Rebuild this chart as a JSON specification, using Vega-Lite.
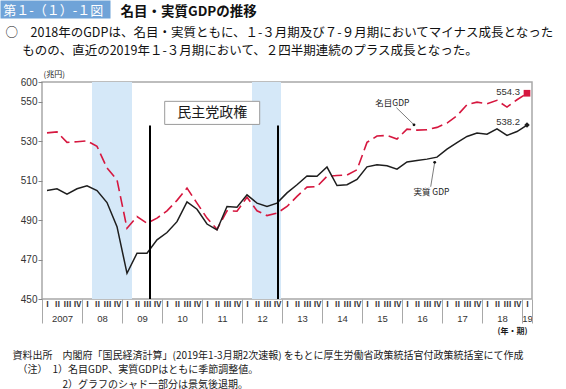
{
  "$schema": "https://vega.github.io/schema/vega-lite/v6.json",
  "width": 490,
  "height": 217,
  "autosize": "none",
  "padding": {"left": 42, "top": 82, "right": 34, "bottom": 90},
  "background": "white",
  "config": {
    "view": {"stroke": "#a8a8a8", "strokeWidth": 1.5},
    "font": "Noto Sans CJK JP",
    "axis": {"labelFlush": false, "labelOverlap": false, "labelBound": false, "grid": false, "titleColor": "#1a1a1a", "labelColor": "#333333"},
    "text": {"font": "Noto Sans CJK JP"}
  },
  "datasets": {
    "gdp": [
      {"t": 0, "period": "2007Q1", "real": 505.0, "nominal": 534.2},
      {"t": 1, "period": "2007Q2", "real": 505.9, "nominal": 534.7},
      {"t": 2, "period": "2007Q3", "real": 503.2, "nominal": 529.4},
      {"t": 3, "period": "2007Q4", "real": 505.9, "nominal": 529.7},
      {"t": 4, "period": "2008Q1", "real": 507.4, "nominal": 530.2},
      {"t": 5, "period": "2008Q2", "real": 505.0, "nominal": 527.4},
      {"t": 6, "period": "2008Q3", "real": 498.9, "nominal": 516.4},
      {"t": 7, "period": "2008Q4", "real": 486.7, "nominal": 510.4},
      {"t": 8, "period": "2009Q1", "real": 463.0, "nominal": 485.9},
      {"t": 9, "period": "2009Q2", "real": 473.2, "nominal": 491.8},
      {"t": 10, "period": "2009Q3", "real": 473.2, "nominal": 488.4},
      {"t": 11, "period": "2009Q4", "real": 480.0, "nominal": 491.0},
      {"t": 12, "period": "2010Q1", "real": 483.7, "nominal": 494.7},
      {"t": 13, "period": "2010Q2", "real": 489.2, "nominal": 500.0},
      {"t": 14, "period": "2010Q3", "real": 499.2, "nominal": 506.2},
      {"t": 15, "period": "2010Q4", "real": 495.5, "nominal": 498.6},
      {"t": 16, "period": "2011Q1", "real": 488.0, "nominal": 491.0},
      {"t": 17, "period": "2011Q2", "real": 485.0, "nominal": 485.3},
      {"t": 18, "period": "2011Q3", "real": 496.9, "nominal": 494.7},
      {"t": 19, "period": "2011Q4", "real": 496.5, "nominal": 494.5},
      {"t": 20, "period": "2012Q1", "real": 502.8, "nominal": 501.6},
      {"t": 21, "period": "2012Q2", "real": 498.6, "nominal": 494.7},
      {"t": 22, "period": "2012Q3", "real": 496.9, "nominal": 492.3},
      {"t": 23, "period": "2012Q4", "real": 498.6, "nominal": 493.5},
      {"t": 24, "period": "2013Q1", "real": 503.8, "nominal": 496.9},
      {"t": 25, "period": "2013Q2", "real": 507.9, "nominal": 502.0},
      {"t": 26, "period": "2013Q3", "real": 512.4, "nominal": 506.7},
      {"t": 27, "period": "2013Q4", "real": 512.2, "nominal": 507.0},
      {"t": 28, "period": "2014Q1", "real": 516.9, "nominal": 512.2},
      {"t": 29, "period": "2014Q2", "real": 507.5, "nominal": 512.6},
      {"t": 30, "period": "2014Q3", "real": 507.9, "nominal": 512.8},
      {"t": 31, "period": "2014Q4", "real": 510.6, "nominal": 515.5},
      {"t": 32, "period": "2015Q1", "real": 517.0, "nominal": 529.4},
      {"t": 33, "period": "2015Q2", "real": 518.0, "nominal": 532.6},
      {"t": 34, "period": "2015Q3", "real": 517.5, "nominal": 532.9},
      {"t": 35, "period": "2015Q4", "real": 515.8, "nominal": 531.1},
      {"t": 36, "period": "2016Q1", "real": 519.5, "nominal": 536.1},
      {"t": 37, "period": "2016Q2", "real": 520.2, "nominal": 535.6},
      {"t": 38, "period": "2016Q3", "real": 520.9, "nominal": 535.8},
      {"t": 39, "period": "2016Q4", "real": 521.9, "nominal": 537.0},
      {"t": 40, "period": "2017Q1", "real": 526.0, "nominal": 539.2},
      {"t": 41, "period": "2017Q2", "real": 529.3, "nominal": 542.9},
      {"t": 42, "period": "2017Q3", "real": 532.4, "nominal": 548.5},
      {"t": 43, "period": "2017Q4", "real": 534.1, "nominal": 549.8},
      {"t": 44, "period": "2018Q1", "real": 533.5, "nominal": 549.0},
      {"t": 45, "period": "2018Q2", "real": 536.3, "nominal": 550.7},
      {"t": 46, "period": "2018Q3", "real": 532.9, "nominal": 547.3},
      {"t": 47, "period": "2018Q4", "real": 534.9, "nominal": 551.0},
      {"t": 48, "period": "2019Q1", "real": 538.2, "nominal": 554.3}
    ],
    "recession": [
      {"start": 4.5, "end": 8.5, "period": "2008Q2-2009Q1"},
      {"start": 20.5, "end": 23.4, "period": "2012Q2-2012Q4"}
    ],
    "cabinet": [
      {"t": 10.3, "event": "民主党政権発足"},
      {"t": 23.1, "event": "民主党政権終了"}
    ]
  },
  "resolve": {"axis": {"x": "independent", "y": "independent"}},
  "layer": [
    {
      "data": {"name": "recession"},
      "mark": {"type": "rect", "color": "#d5e8f8"},
      "encoding": {
        "x": {"field": "start", "type": "quantitative", "scale": {"domain": [-0.5, 48.5], "nice": false, "zero": false},
          "axis": {"orient": "bottom", "values": [1.5, 5.5, 9.5, 13.5, 17.5, 21.5, 25.5, 29.5, 33.5, 37.5, 41.5, 45.5, 48],
            "labelExpr": "datum.value < 2 ? '2007' : slice(toString(2007 + floor((datum.value + 0.5) / 4)), 2)",
            "ticks": false, "domain": false, "labelPadding": 14, "labelFontSize": 9.5, "labelFont": "Liberation Sans", "title": null}},
        "x2": {"field": "end"},
        "y": {"datum": 450, "type": "quantitative", "scale": {"domain": [450, 560], "nice": false, "zero": false},
          "axis": {"orient": "left", "values": [450, 470, 490, 510, 530, 550, 560],
            "labelExpr": "datum.value == 560 ? '600' : datum.label",
            "tickSize": 4, "tickColor": "#888888", "tickWidth": 1, "domain": false, "labelPadding": 1,
            "labelFontSize": 10, "labelFont": "Liberation Sans",
            "title": "(兆円)", "titleAngle": 0, "titleX": 1, "titleY": -8, "titleAlign": "left", "titleBaseline": "middle",
            "titleFontSize": 8, "titleFontWeight": "normal"}},
        "y2": {"datum": 560}
      }
    },
    {
      "data": {"name": "gdp"},
      "mark": {"type": "line", "color": "#d6173f", "strokeWidth": 1.6, "strokeDash": [11, 5]},
      "encoding": {
        "x": {"field": "t", "type": "quantitative", "scale": {"domain": [-0.5, 48.5], "nice": false, "zero": false},
          "axis": {"orient": "bottom", "values": [0,1,2,3,4,5,6,7,8,9,10,11,12,13,14,15,16,17,18,19,20,21,22,23,24,25,26,27,28,29,30,31,32,33,34,35,36,37,38,39,40,41,42,43,44,45,46,47,48],
            "labelExpr": "['Ⅰ','Ⅱ','Ⅲ','Ⅳ'][datum.value % 4]",
            "ticks": false, "domain": false, "labelPadding": 1, "labelFontSize": 8, "labelFont": "Noto Sans CJK JP", "labelFontWeight": "bold",
            "title": "(年・期)", "titleX": 485, "titleY": 32, "titleAlign": "right", "titleBaseline": "middle",
            "titleFontSize": 8, "titleFontWeight": "bold"}},
        "y": {"field": "nominal", "type": "quantitative", "scale": {"domain": [450, 560], "nice": false, "zero": false}, "axis": null}
      }
    },
    {
      "data": {"name": "gdp"},
      "mark": {"type": "line", "color": "#1e1e1e", "strokeWidth": 1.5},
      "encoding": {
        "x": {"field": "t", "type": "quantitative", "scale": {"domain": [-0.5, 48.5], "nice": false, "zero": false},
          "axis": {"orient": "bottom", "values": [-0.5, 3.5, 7.5, 11.5, 15.5, 19.5, 23.5, 27.5, 31.5, 35.5, 39.5, 43.5, 47.5, 48.5],
            "ticks": true, "tickSize": 24, "tickColor": "#a8a8a8", "tickWidth": 1, "labels": false, "domain": false,
            "title": ["資料出所　内閣府「国民経済計算」(2019年1-3月期2次速報) をもとに厚生労働省政策統括官付政策統括室にて作成", "\u200B　（注）　1）名目GDP、実質GDPはともに季節調整値。", "\u200B　　　　　2）グラフのシャドー部分は景気後退期。"],
            "titleX": -30, "titleY": 51, "titleAlign": "left", "titleBaseline": "top",
            "titleFontSize": 10, "titleFontWeight": "normal", "titleLineHeight": 14.5}},
        "y": {"field": "real", "type": "quantitative", "scale": {"domain": [450, 560], "nice": false, "zero": false}, "axis": null}
      }
    },
    {
      "data": {"name": "cabinet"},
      "mark": {"type": "rule", "color": "#000000", "strokeWidth": 2},
      "encoding": {
        "x": {"field": "t", "type": "quantitative", "scale": {"domain": [-0.5, 48.5], "nice": false, "zero": false},
          "axis": {"orient": "top", "offset": 64, "values": [0.77], "domain": false, "ticks": true, "tickSize": 18, "tickWidth": 110,
            "tickColor": "#6fa3d8", "tickCap": "butt",
            "labelExpr": "'第１-（１）-１図'", "labelColor": "#ffffff", "labelFontSize": 13, "labelFont": "Noto Sans CJK JP",
            "labelAlign": "left", "labelBaseline": "alphabetic", "labelOffset": -52, "labelPadding": -14,
            "title": "名目・実質GDPの推移", "titleX": 78, "titleY": -3, "titleAlign": "left", "titleBaseline": "alphabetic",
            "titleFontSize": 13.5, "titleFontWeight": "bold", "titleColor": "#111111"}},
        "y": {"datum": 450, "type": "quantitative", "scale": {"domain": [450, 560], "nice": false, "zero": false}, "axis": null},
        "y2": {"datum": 538}
      }
    },
    {
      "data": {"values": [{"label": "民主党政権"}]},
      "mark": {"type": "rect", "fill": "#ffffff", "stroke": "#9a9a9a", "strokeWidth": 1},
      "encoding": {
        "x": {"datum": 11.77, "type": "quantitative", "scale": {"domain": [-0.5, 48.5], "nice": false, "zero": false},
          "axis": {"orient": "top", "offset": 0, "values": [0], "domain": false, "ticks": false, "labels": false,
            "title": "○　2018年のGDPは、名目・実質ともに、１-３月期及び７-９月期においてマイナス成長となった",
            "titleX": -37, "titleY": -50, "titleAlign": "left", "titleBaseline": "middle",
            "titleFontSize": 12.5, "titleFontWeight": "normal", "titleColor": "#111111"}},
        "x2": {"datum": 21.27},
        "y": {"datum": 538.5, "type": "quantitative", "scale": {"domain": [450, 560], "nice": false, "zero": false}, "axis": null},
        "y2": {"datum": 550.2}
      }
    },
    {
      "data": {"values": [{"label": "民主党政権"}]},
      "mark": {"type": "text", "fontSize": 14, "color": "#1a1a1a", "align": "center", "baseline": "middle"},
      "encoding": {
        "x": {"datum": 16.52, "type": "quantitative", "scale": {"domain": [-0.5, 48.5], "nice": false, "zero": false},
          "axis": {"orient": "top", "offset": 0, "values": [0], "domain": false, "ticks": false, "labels": false,
            "title": "\u200B　\u2004ものの、直近の2019年１-３月期において、２四半期連続のプラス成長となった。",
            "titleX": -37, "titleY": -31.5, "titleAlign": "left", "titleBaseline": "middle",
            "titleFontSize": 12.5, "titleFontWeight": "normal", "titleColor": "#111111"}},
        "y": {"datum": 544.3, "type": "quantitative", "scale": {"domain": [450, 560], "nice": false, "zero": false}, "axis": null},
        "text": {"field": "label"}
      }
    },
    {
      "data": {"name": "gdp"},
      "transform": [{"filter": "datum.t == 48"}],
      "mark": {"type": "square", "color": "#d6173f", "opacity": 1, "size": 45, "filled": true},
      "encoding": {
        "x": {"field": "t", "type": "quantitative", "scale": {"domain": [-0.5, 48.5], "nice": false, "zero": false}, "axis": null},
        "y": {"field": "nominal", "type": "quantitative", "scale": {"domain": [450, 560], "nice": false, "zero": false}, "axis": null}
      }
    },
    {
      "data": {"name": "gdp"},
      "transform": [{"filter": "datum.t == 48"}],
      "mark": {"type": "point", "shape": "diamond", "color": "#1e1e1e", "opacity": 1, "size": 30, "filled": true},
      "encoding": {
        "x": {"field": "t", "type": "quantitative", "scale": {"domain": [-0.5, 48.5], "nice": false, "zero": false}, "axis": null},
        "y": {"field": "real", "type": "quantitative", "scale": {"domain": [450, 560], "nice": false, "zero": false}, "axis": null}
      }
    },
    {
      "data": {"name": "gdp"},
      "transform": [{"filter": "datum.t == 48"}],
      "mark": {"type": "text", "align": "right", "baseline": "middle", "dx": -7, "dy": -1, "fontSize": 9.5, "font": "Liberation Sans", "color": "#333333"},
      "encoding": {
        "x": {"field": "t", "type": "quantitative", "scale": {"domain": [-0.5, 48.5], "nice": false, "zero": false}, "axis": null},
        "y": {"field": "nominal", "type": "quantitative", "scale": {"domain": [450, 560], "nice": false, "zero": false}, "axis": null},
        "text": {"field": "nominal", "type": "quantitative", "format": ".1f"}
      }
    },
    {
      "data": {"name": "gdp"},
      "transform": [{"filter": "datum.t == 48"}],
      "mark": {"type": "text", "align": "right", "baseline": "middle", "dx": -7, "dy": -3, "fontSize": 9.5, "font": "Liberation Sans", "color": "#333333"},
      "encoding": {
        "x": {"field": "t", "type": "quantitative", "scale": {"domain": [-0.5, 48.5], "nice": false, "zero": false}, "axis": null},
        "y": {"field": "real", "type": "quantitative", "scale": {"domain": [450, 560], "nice": false, "zero": false}, "axis": null},
        "text": {"field": "real", "type": "quantitative", "format": ".1f"}
      }
    },
    {
      "data": {"values": [{"series": "名目GDP"}]},
      "mark": {"type": "text", "fontSize": 8.5, "color": "#222222", "align": "center", "baseline": "middle"},
      "encoding": {
        "x": {"datum": 34.54, "type": "quantitative", "scale": {"domain": [-0.5, 48.5], "nice": false, "zero": false}, "axis": null},
        "y": {"datum": 549.3, "type": "quantitative", "scale": {"domain": [450, 560], "nice": false, "zero": false}, "axis": null},
        "text": {"field": "series"}
      }
    },
    {
      "data": {"values": [{"series": "実質 GDP"}]},
      "mark": {"type": "text", "fontSize": 8.5, "color": "#222222", "align": "center", "baseline": "middle"},
      "encoding": {
        "x": {"datum": 38.44, "type": "quantitative", "scale": {"domain": [-0.5, 48.5], "nice": false, "zero": false}, "axis": null},
        "y": {"datum": 504.2, "type": "quantitative", "scale": {"domain": [450, 560], "nice": false, "zero": false}, "axis": null},
        "text": {"field": "series"}
      }
    },
    {
      "data": {"values": [{"series": "名目GDP"}]},
      "mark": {"type": "rule", "color": "#444444", "strokeWidth": 0.7},
      "encoding": {
        "x": {"datum": 34.94, "type": "quantitative", "scale": {"domain": [-0.5, 48.5], "nice": false, "zero": false}, "axis": null},
        "x2": {"datum": 36.7},
        "y": {"datum": 547.0, "type": "quantitative", "scale": {"domain": [450, 560], "nice": false, "zero": false}, "axis": null},
        "y2": {"datum": 538.3}
      }
    },
    {
      "data": {"values": [{"series": "実質 GDP"}]},
      "mark": {"type": "rule", "color": "#444444", "strokeWidth": 0.7},
      "encoding": {
        "x": {"datum": 38.37, "type": "quantitative", "scale": {"domain": [-0.5, 48.5], "nice": false, "zero": false}, "axis": null},
        "x2": {"datum": 38.77},
        "y": {"datum": 506.9, "type": "quantitative", "scale": {"domain": [450, 560], "nice": false, "zero": false}, "axis": null},
        "y2": {"datum": 519.3}
      }
    },
    {
      "data": {"values": [{"series": "名目GDP"}]},
      "mark": {"type": "circle", "color": "#111111", "opacity": 1, "size": 8},
      "encoding": {
        "x": {"datum": 36.7, "type": "quantitative", "scale": {"domain": [-0.5, 48.5], "nice": false, "zero": false}, "axis": null},
        "y": {"datum": 538.3, "type": "quantitative", "scale": {"domain": [450, 560], "nice": false, "zero": false}, "axis": null}
      }
    },
    {
      "data": {"values": [{"series": "実質 GDP"}]},
      "mark": {"type": "circle", "color": "#111111", "opacity": 1, "size": 8},
      "encoding": {
        "x": {"datum": 38.77, "type": "quantitative", "scale": {"domain": [-0.5, 48.5], "nice": false, "zero": false}, "axis": null},
        "y": {"datum": 519.3, "type": "quantitative", "scale": {"domain": [450, 560], "nice": false, "zero": false}, "axis": null}
      }
    }
  ]
}
